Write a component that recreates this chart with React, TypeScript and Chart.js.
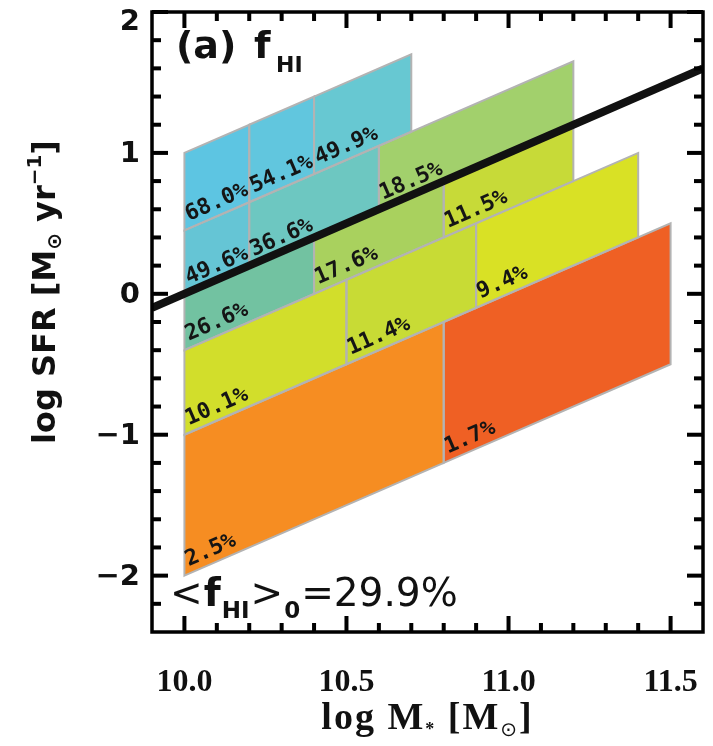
import React, { useEffect, useRef } from "react";
import { Chart, registerables } from "chart.js";

Chart.register(...registerables);

const W = 713;
const H = 746;

// axes
const xMin = 9.9;
const xMax = 11.6;
const yMin = -2.4;
const yMax = 2.0;
const xMajorTicks = [10.0, 10.5, 11.0, 11.5];
const xTickLabels = ["10.0", "10.5", "11.0", "11.5"];
const xMinorTicks = [10.1, 10.2, 10.3, 10.4, 10.6, 10.7, 10.8, 10.9, 11.1, 11.2, 11.3, 11.4];
const yMajorTicks = [-2, -1, 0, 1, 2];
const yTickLabels = ["\u22122", "\u22121", "0", "1", "2"];
const yMinorTicks = [-2.2, -1.8, -1.6, -1.4, -1.2, -0.8, -0.6, -0.4, -0.2, 0.2, 0.4, 0.6, 0.8, 1.2, 1.4, 1.6, 1.8];

// cells: stellar-mass bin and specific-SFR bin (log sSFR), HI detection fraction
const cellLabels = ["68.0%", "54.1%", "49.9%", "49.6%", "36.6%", "18.5%", "26.6%", "17.6%", "11.5%", "10.1%", "11.4%", "9.4%", "2.5%", "1.7%"];
const cellMassLo = [10.0, 10.2, 10.4, 10.0, 10.2, 10.6, 10.0, 10.4, 10.8, 10.0, 10.5, 10.9, 10.0, 10.8];
const cellMassHi = [10.2, 10.4, 10.7, 10.2, 10.6, 11.2, 10.4, 10.8, 11.2, 10.5, 10.9, 11.4, 10.8, 11.5];
const cellSsfrLo = [-9.55, -9.55, -9.55, -10.0, -10.0, -10.0, -10.4, -10.4, -10.4, -11.0, -11.0, -11.0, -12.0, -12.0];
const cellSsfrHi = [-9.0, -9.0, -9.0, -9.55, -9.55, -9.55, -10.0, -10.0, -10.0, -10.4, -10.4, -10.4, -11.0, -11.0];
const cellColors = ["#5DC5E2", "#61C6DE", "#67C8D2", "#65C5D5", "#6DC7C1", "#A2D06C", "#72C2A1", "#A9D15E", "#C7DA38", "#D2DE2B", "#C8DB35", "#D9E125", "#F68D22", "#EF6024"];

// main-sequence reference line (log sSFR = -10)
const lineX = [9.9, 11.6];
const lineY = [-0.1, 1.6];

const meanLabel = "=29.9%";

function cellPath(ctx: any, xs: any, ys: any, i: number) {
  const m0 = cellMassLo[i];
  const m1 = cellMassHi[i];
  const s0 = cellSsfrLo[i];
  const s1 = cellSsfrHi[i];
  const pts = [
    [m0, m0 + s0],
    [m1, m1 + s0],
    [m1, m1 + s1],
    [m0, m0 + s1],
  ];
  ctx.beginPath();
  for (let k = 0; k < pts.length; k++) {
    const px = xs.getPixelForValue(pts[k][0]);
    const py = ys.getPixelForValue(pts[k][1]);
    if (k === 0) ctx.moveTo(px, py);
    else ctx.lineTo(px, py);
  }
  ctx.closePath();
}

const cellsPlugin = {
  id: "cells",
  beforeDatasetsDraw(chart: any) {
    const { ctx, chartArea, scales } = chart;
    const xs = scales.x;
    const ys = scales.y;
    ctx.save();
    ctx.beginPath();
    ctx.rect(chartArea.left, chartArea.top, chartArea.right - chartArea.left, chartArea.bottom - chartArea.top);
    ctx.clip();
    for (let i = 0; i < cellLabels.length; i++) {
      cellPath(ctx, xs, ys, i);
      ctx.fillStyle = cellColors[i];
      ctx.fill();
    }
    ctx.strokeStyle = "#B3B3B3";
    ctx.lineWidth = 2;
    for (let i = 0; i < cellLabels.length; i++) {
      cellPath(ctx, xs, ys, i);
      ctx.stroke();
    }
    ctx.restore();

    // cell labels
    ctx.save();
    ctx.fillStyle = "#151515";
    ctx.font = "bold 22px 'DejaVu Sans Mono'";
    ctx.textAlign = "left";
    ctx.textBaseline = "alphabetic";
    for (let i = 0; i < cellLabels.length; i++) {
      const m0 = cellMassLo[i];
      const m1 = cellMassHi[i];
      const s0 = cellSsfrLo[i];
      const p0x = xs.getPixelForValue(m0);
      const p0y = ys.getPixelForValue(m0 + s0);
      const p1x = xs.getPixelForValue(m1);
      const p1y = ys.getPixelForValue(m1 + s0);
      const ang = Math.atan2(p1y - p0y, p1x - p0x);
      ctx.save();
      ctx.translate(p0x + 4, p0y - 5);
      ctx.rotate(ang);
      ctx.fillText(cellLabels[i], 2, -4);
      ctx.restore();
    }
    ctx.restore();
  },
  afterDraw(chart: any) {
    const ctx = chart.ctx;
    const area = chart.chartArea;
    const xs = chart.scales.x;
    const ys = chart.scales.y;
    const L = area.left;
    const R = area.right;
    const T = area.top;
    const B = area.bottom;

    // frame
    ctx.save();
    ctx.strokeStyle = "#000";
    ctx.lineWidth = 3.5;
    ctx.strokeRect(L, T, R - L, B - T);
    ctx.restore();

    // inward ticks on all four sides
    ctx.save();
    ctx.fillStyle = "#000000";
    xMajorTicks.forEach((v) => {
      const px = xs.getPixelForValue(v);
      ctx.fillRect(px - 2, B - 16, 4, 16);
      ctx.fillRect(px - 2, T, 4, 16);
    });
    xMinorTicks.forEach((v) => {
      const px = xs.getPixelForValue(v);
      ctx.fillRect(px - 2, B - 9, 4, 9);
      ctx.fillRect(px - 2, T, 4, 9);
    });
    yMajorTicks.forEach((v) => {
      const py = ys.getPixelForValue(v);
      ctx.fillRect(L, py - 2, 16, 4);
      ctx.fillRect(R - 16, py - 2, 16, 4);
    });
    yMinorTicks.forEach((v) => {
      const py = ys.getPixelForValue(v);
      ctx.fillRect(L, py - 2, 9, 4);
      ctx.fillRect(R - 9, py - 2, 9, 4);
    });
    ctx.restore();

    // tick labels
    ctx.save();
    ctx.fillStyle = "#111";
    ctx.font = "bold 32px 'Liberation Serif'";
    ctx.textAlign = "center";
    ctx.textBaseline = "alphabetic";
    xMajorTicks.forEach((v, i) => {
      ctx.fillText(xTickLabels[i], xs.getPixelForValue(v), B + 59);
    });
    ctx.font = "bold 29px 'DejaVu Sans'";
    ctx.textAlign = "right";
    ctx.textBaseline = "middle";
    yMajorTicks.forEach((v, i) => {
      const py = Math.max(ys.getPixelForValue(v) + 2, T + 10);
      ctx.fillText(yTickLabels[i], L - 12, py);
    });
    ctx.restore();

    // x title: log M* [Msun]
    ctx.save();
    ctx.fillStyle = "#111";
    ctx.textBaseline = "alphabetic";
    ctx.textAlign = "left";
    const xParts: [string, string, number][] = [
      ["log M", "bold 38px 'Liberation Serif'", 0],
      ["*", "bold 18px 'Liberation Serif'", 6],
      [" [M", "bold 38px 'Liberation Serif'", 0],
      ["\u2299", "20px 'DejaVu Sans'", 7],
      ["]", "bold 38px 'Liberation Serif'", 0],
    ];
    let tot = 0;
    xParts.forEach(([t, f]) => {
      ctx.font = f;
      tot += ctx.measureText(t).width + 2 * t.length;
    });
    let cx = (L + R) / 2 - tot / 2;
    const baseX = B + 97;
    xParts.forEach(([t, f, dy]) => {
      ctx.font = f;
      for (const ch of t) {
        ctx.fillText(ch, cx, baseX + dy);
        cx += ctx.measureText(ch).width + 2;
      }
    });
    ctx.restore();

    // y title: log SFR [Msun yr^-1]
    ctx.save();
    ctx.fillStyle = "#111";
    ctx.translate(55, 292);
    ctx.rotate(-Math.PI / 2);
    ctx.textBaseline = "alphabetic";
    ctx.textAlign = "left";
    const yParts: [string, string, number][] = [
      ["log SFR [M", "bold 32px 'DejaVu Sans'", 0],
      ["\u2299", "bold 20px 'DejaVu Sans'", 6],
      [" yr", "bold 32px 'DejaVu Sans'", 0],
      ["\u22121", "bold 20px 'DejaVu Sans'", -14],
      ["]", "bold 32px 'DejaVu Sans'", 0],
    ];
    let ytot = 0;
    yParts.forEach(([t, f]) => {
      ctx.font = f;
      ytot += ctx.measureText(t).width;
    });
    let yx = -ytot / 2;
    yParts.forEach(([t, f, dy]) => {
      ctx.font = f;
      ctx.fillText(t, yx, dy);
      yx += ctx.measureText(t).width;
    });
    ctx.restore();

    // panel tag (a) f_HI
    ctx.save();
    ctx.fillStyle = "#111";
    ctx.textBaseline = "alphabetic";
    ctx.textAlign = "left";
    ctx.font = "bold 38px 'DejaVu Sans'";
    ctx.fillText("(a)", 176, 58);
    ctx.fillText("f", 254, 58);
    ctx.font = "bold 22px 'DejaVu Sans'";
    ctx.fillText("HI", 276, 72);
    ctx.restore();

    // mean fraction <f_HI>_0=29.9%
    ctx.save();
    ctx.fillStyle = "#111";
    ctx.textBaseline = "alphabetic";
    ctx.textAlign = "left";
    const base = 606;
    let ax = 170;
    const parts: [string, string, number][] = [
      ["<", "39px 'DejaVu Sans'", 0],
      ["f", "bold 39px 'DejaVu Sans'", 0],
      ["HI", "bold 23px 'DejaVu Sans'", 12],
      [">", "39px 'DejaVu Sans'", 0],
      ["0", "bold 23px 'DejaVu Sans'", 12],
      [meanLabel, "39px 'DejaVu Sans'", 0],
    ];
    parts.forEach(([t, f, dy]) => {
      ctx.font = f;
      ctx.fillText(t, ax, base + dy);
      ax += ctx.measureText(t).width + 1;
    });
    ctx.restore();
  },
};

export default function App() {
  const ref = useRef<HTMLCanvasElement>(null);
  useEffect(() => {
    const canvas = ref.current;
    if (!canvas) return;
    const chart = new Chart(canvas, {
      type: "scatter",
      data: {
        datasets: [
          {
            label: "log sSFR = -10",
            data: lineX.map((x, i) => ({ x, y: lineY[i] })),
            showLine: true,
            borderColor: "#111",
            borderWidth: 8,
            pointRadius: 0,
            borderCapStyle: "butt",
            clip: 0,
          } as any,
        ],
      },
      options: {
        responsive: false,
        animation: false,
        devicePixelRatio: 1,
        layout: { padding: { left: 152, top: 12, right: 10, bottom: 114 } },
        plugins: { legend: { display: false }, tooltip: { enabled: false } },
        scales: {
          x: { type: "linear", min: xMin, max: xMax, display: false },
          y: { type: "linear", min: yMin, max: yMax, display: false },
        },
      },
      plugins: [cellsPlugin],
    });
    return () => chart.destroy();
  }, []);
  return (
    <div style={{ position: "fixed", left: 0, top: 0, width: W, height: H, background: "#fff" }}>
      <canvas ref={ref} width={W} height={H} style={{ display: "block", width: W, height: H }} />
    </div>
  );
}
